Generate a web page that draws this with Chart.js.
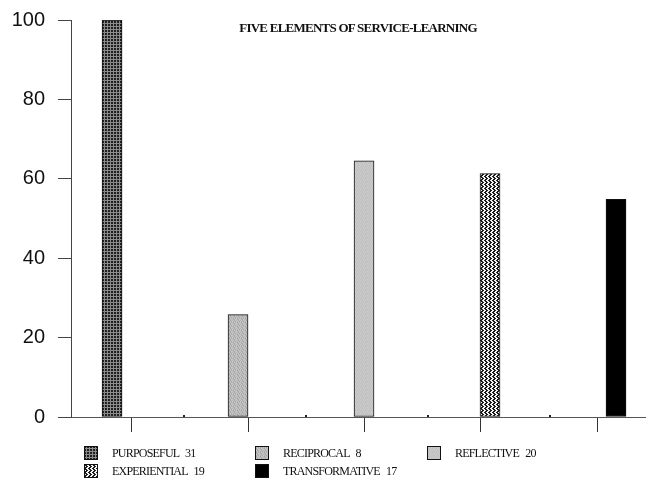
<!DOCTYPE html>
<html>
<head>
<meta charset="utf-8">
<script src="https://cdn.jsdelivr.net/npm/chart.js@4/dist/chart.umd.min.js"></script>
<style>
  html, body { margin: 0; padding: 0; background: #fff; }
  #wrap { position: relative; width: 646px; height: 478px; overflow: hidden; }
  #c { position: absolute; left: 0; top: 0; }
  #title { position: absolute; left: 358px; top: 21px; transform: translateX(-50%);
    font-family: "Liberation Serif", "Times New Roman", serif; font-size: 13px; font-weight: bold;
    line-height: 14px; white-space: nowrap; color: #111; letter-spacing: -0.75px; }
  .lg { position: absolute; height: 14px; display: flex; align-items: center; }
  .lg canvas { display: block; }
  .lg span { position: absolute; left: 28px; top: 0; line-height: 14px; white-space: nowrap;
    font-family: "Liberation Serif", "Times New Roman", serif; font-size: 12px; color: #111; letter-spacing: -0.8px; word-spacing: 4px; }
</style>
</head>
<body>
<div id="wrap">
  <canvas id="c" width="646" height="478"></canvas>
  <div id="title">FIVE ELEMENTS OF SERVICE-LEARNING</div>
  <div id="legend"></div>
</div>
<script>
// ---- data ----
const categories = ["PURPOSEFUL", "RECIPROCAL", "REFLECTIVE", "EXPERIENTIAL", "TRANSFORMATIVE"];
const counts = [31, 8, 20, 19, 17];
const percentValues = [100, 25.8, 64.5, 61.3, 54.8];
const yTickValues = [0, 20, 40, 60, 80, 100];
const xTickValues = [1, 2, 3, 4, 5];
const minorTickValues = [1.45, 2.5, 3.55, 4.6];

// ---- patterns ----
function tile(w, h, painter) {
  const cv = document.createElement('canvas');
  cv.width = w; cv.height = h;
  const g = cv.getContext('2d');
  painter(g);
  return cv;
}
function px(g, x, y, c) { g.fillStyle = c; g.fillRect(x, y, 1, 1); }
const tiles = [
  // purposeful: dark grid
  tile(3, 3, g => { g.fillStyle = '#8c8c8c'; g.fillRect(0,0,3,3); g.fillStyle = '#1e1e1e'; g.fillRect(0,0,2,2); }),
  // reciprocal: light speckled grey
  tile(4, 4, g => {
    const s = ['#b4b4b4','#c8c8c8','#a8a8a8','#c2c2c2','#cccccc','#b0b0b0','#bebebe','#a6a6a6',
               '#bababa','#a4a4a4','#cacaca','#b6b6b6','#c4c4c4','#b2b2b2','#aaaaaa','#c6c6c6'];
    for (let i = 0; i < 16; i++) px(g, i % 4, Math.floor(i / 4), s[i]);
  }),
  // reflective: light grey
  tile(4, 4, g => {
    const s = ['#c4c4c4','#cacaca','#c0c0c0','#c8c8c8','#cccccc','#c2c2c2','#c6c6c6','#bebebe',
               '#c6c6c6','#bcbcbc','#cacaca','#c4c4c4','#c2c2c2','#c8c8c8','#c0c0c0','#cccccc'];
    for (let i = 0; i < 16; i++) px(g, i % 4, Math.floor(i / 4), s[i]);
  }),
  // experiential: zigzag checks
  tile(4, 4, g => {
    g.fillStyle = '#f4f4f4'; g.fillRect(0,0,4,4);
    const rows = ['1100','0110','0011','0110'];
    rows.forEach((r, y) => [...r].forEach((v, x) => { if (v === '1') px(g, x, y, '#1a1a1a'); }));
  }),
  // transformative: black
  tile(2, 2, g => { g.fillStyle = '#000'; g.fillRect(0,0,2,2); })
];
const ctx = document.getElementById('c').getContext('2d');
const fills = tiles.map(t => ctx.createPattern(t, 'repeat'));

// ---- chart ----
const minorTicks = {
  id: 'minorTicks',
  afterDatasetsDraw(chart) {
    const s = chart.scales.x2, c = chart.ctx, b = chart.chartArea.bottom;
    c.save(); c.fillStyle = '#222';
    minorTickValues.forEach(v => { const x = Math.round(s.getPixelForValue(v)); c.fillRect(x - 1, b - 2, 2, 2); });
    c.restore();
  }
};

new Chart(ctx, {
  type: 'bar',
  data: {
    datasets: [{
      data: percentValues.map((v, i) => ({ x: i, y: v })),
      backgroundColor: fills,
      borderColor: '#111',
      borderWidth: 1,
      borderSkipped: false,
      barThickness: 20
    }]
  },
  options: {
    responsive: false,
    animation: false,
    devicePixelRatio: 1,
    layout: { padding: { left: 12, top: 20, right: 0, bottom: 46 } },
    plugins: { legend: { display: false }, tooltip: { enabled: false }, title: { display: false } },
    scales: {
      x: {
        type: 'linear', display: false, offset: false, grid: { offset: false },
        min: -0.3257, max: 4.238
      },
      x2: {
        type: 'linear', position: 'bottom', offset: false, min: 0.4753, max: 5.4215,
        afterBuildTicks: s => { s.ticks = xTickValues.map(v => ({ value: v })); },
        ticks: { display: false },
        grid: { offset: false, drawOnChartArea: false, drawTicks: true, tickLength: 15, color: '#333', lineWidth: 1 },
        border: { display: true, color: '#555', width: 1 }
      },
      y: {
        min: 0, max: 100,
        afterBuildTicks: s => { s.ticks = yTickValues.map(v => ({ value: v })); },
        afterFit: s => { s.width = 59; s.paddingTop = 0; s.paddingBottom = 0; },
        ticks: { padding: 13, color: '#111', font: { family: '"Liberation Sans", Arial, sans-serif', size: 20 } },
        grid: { drawOnChartArea: false, drawTicks: true, tickLength: 13, color: '#444', lineWidth: 1 },
        border: { display: true, color: '#444', width: 1 }
      }
    }
  },
  plugins: [minorTicks]
});

// ---- legend (HTML) ----
const colX = [84, 255, 427];
const rowY = [446, 464];
const legend = document.getElementById('legend');
categories.forEach((name, i) => {
  const col = i < 3 ? i : i - 3, row = i < 3 ? 0 : 1;
  const item = document.createElement('div');
  item.className = 'lg';
  item.style.left = colX[col] + 'px';
  item.style.top = rowY[row] + 'px';
  const sw = document.createElement('canvas');
  sw.width = 14; sw.height = 14;
  const g = sw.getContext('2d');
  g.fillStyle = g.createPattern(tiles[i], 'repeat');
  g.fillRect(0, 0, 14, 14);
  g.strokeStyle = '#111'; g.lineWidth = 1; g.strokeRect(0.5, 0.5, 13, 13);
  const tx = document.createElement('span');
  tx.textContent = name + ' ' + counts[i];
  item.appendChild(sw); item.appendChild(tx);
  legend.appendChild(item);
});
</script>
</body>
</html>
